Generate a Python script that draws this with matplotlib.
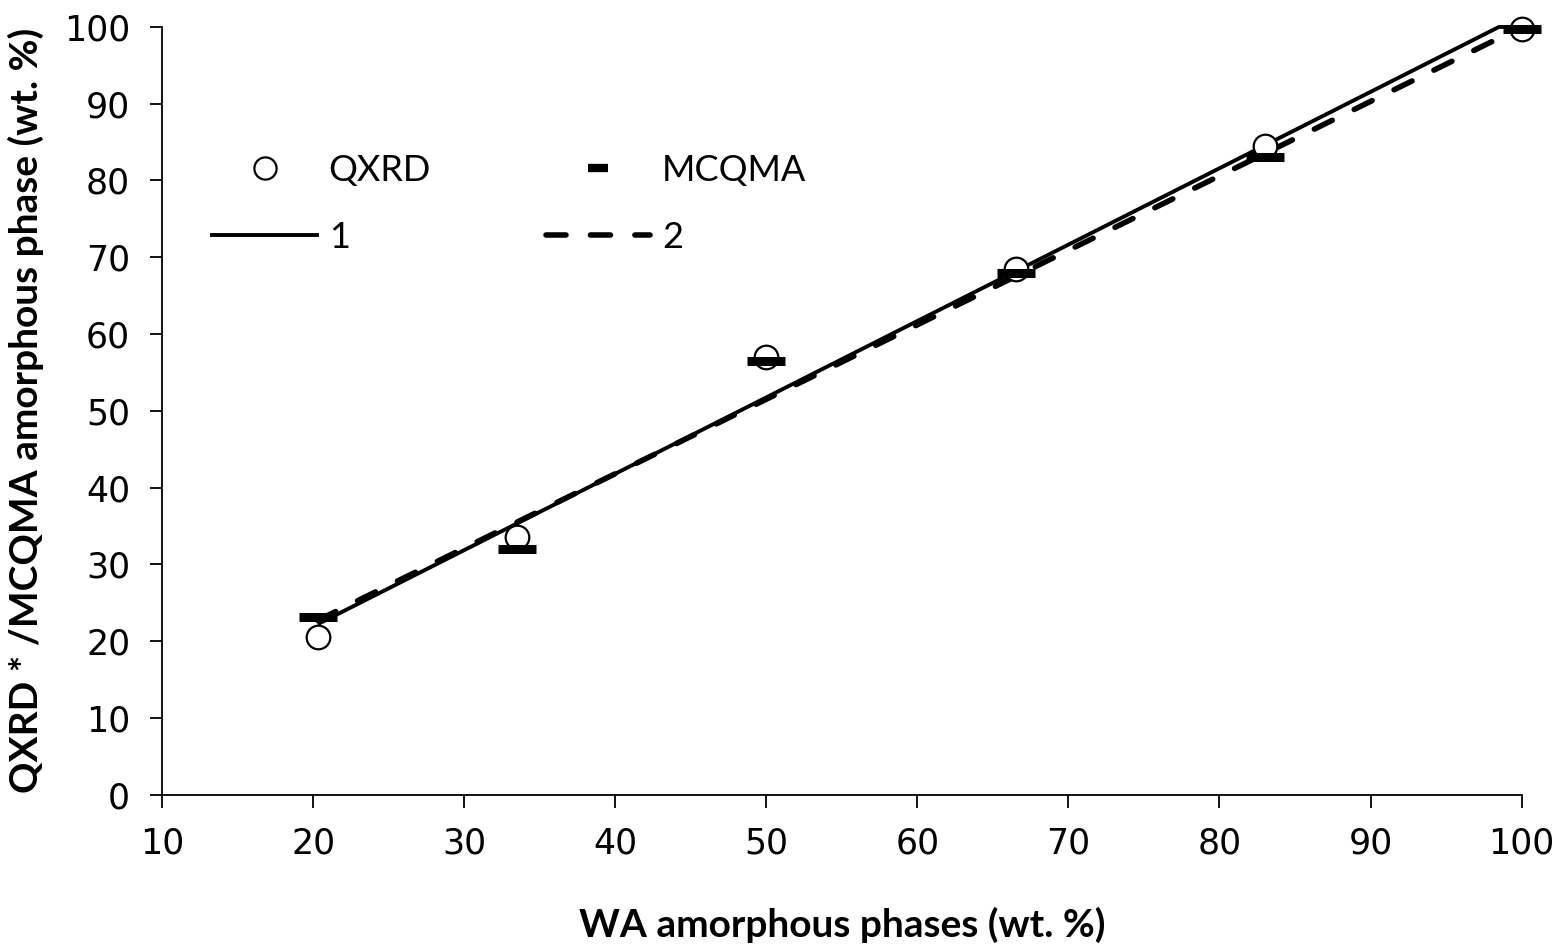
import matplotlib
matplotlib.use("Agg")
import matplotlib.pyplot as plt
from matplotlib.lines import Line2D

# Données
wa = [20.3, 33.5, 50.0, 66.5, 83.0, 100.0]
qxrd = [20.5, 33.5, 57.0, 68.5, 84.5, 99.7]
mcqma = [23.2, 32.0, 56.5, 68.0, 83.0, 99.7]

# Droites 1 (trait plein) et 2 (tirets)
ligne1_x = [20.3, 98.5, 100.0]
ligne1_y = [22.2, 100.0, 100.0]
ligne2_x = [20.3, 100.0]
ligne2_y = [22.7, 100.0]

xticks = list(range(10, 101, 10))
yticks = list(range(0, 101, 10))

fig = plt.figure(figsize=(15.59, 9.46), dpi=100)
ax = fig.add_axes([0.104, 0.160, 0.872, 0.8115])

ax.plot(ligne1_x, ligne1_y, color="black", lw=2.8, solid_capstyle="butt",
        clip_on=False, zorder=2)
ax.plot(ligne2_x, ligne2_y, color="black", lw=4.0, dashes=(3.6, 4.4),
        dash_capstyle="round", clip_on=False, zorder=2)
ax.plot(wa, qxrd, ls="none", marker="o", ms=17, mfc="white", mec="black",
        mew=1.6, clip_on=False, zorder=3)
ax.plot(wa, mcqma, ls="none", marker="_", ms=28, mec="black", mew=6.5,
        clip_on=False, zorder=4)

ax.set_xlim(10, 100)
ax.set_ylim(0, 100)
ax.set_xticks(xticks)
ax.set_yticks(yticks)
ax.spines["top"].set_visible(False)
ax.spines["right"].set_visible(False)
for s in ("left", "bottom"):
    ax.spines[s].set_linewidth(1.3)
ax.tick_params(direction="out", length=9, width=1.3, labelsize=25)
ax.tick_params(axis="x", pad=14)
ax.tick_params(axis="y", pad=14)
for lab in ax.get_xticklabels() + ax.get_yticklabels():
    lab.set_family("DejaVu Sans")

ax.set_xlabel("WA amorphous phases (wt. %)", family="Lato", fontweight="bold",
              fontsize=28, labelpad=33)
ax.set_ylabel("QXRD * /MCQMA amorphous phase (wt. %)", family="Lato",
              fontweight="bold", fontsize=28, labelpad=14)

# Légende : marqueurs un peu plus petits que sur le graphe
poignees = [
    Line2D([], [], ls="none", marker="o", ms=16, mfc="white", mec="black", mew=1.6),
    Line2D([], [], color="black", lw=2.8),
    Line2D([], [], ls="none", marker="_", ms=15, mec="black", mew=6),
    Line2D([], [], color="black", lw=4.0, dashes=(3.6, 4.4), dash_capstyle="round"),
]
ax.legend(poignees, ["QXRD", "1", "MCQMA", "2"], ncol=2, frameon=False,
          loc="upper left", bbox_to_anchor=(0.037, 0.835), borderaxespad=0,
          borderpad=0, handlelength=2.9, handletextpad=0.32, columnspacing=3.17,
          labelspacing=0.95, prop={"family": "Lato", "size": 26})

fig.savefig("out.png", dpi=100)
